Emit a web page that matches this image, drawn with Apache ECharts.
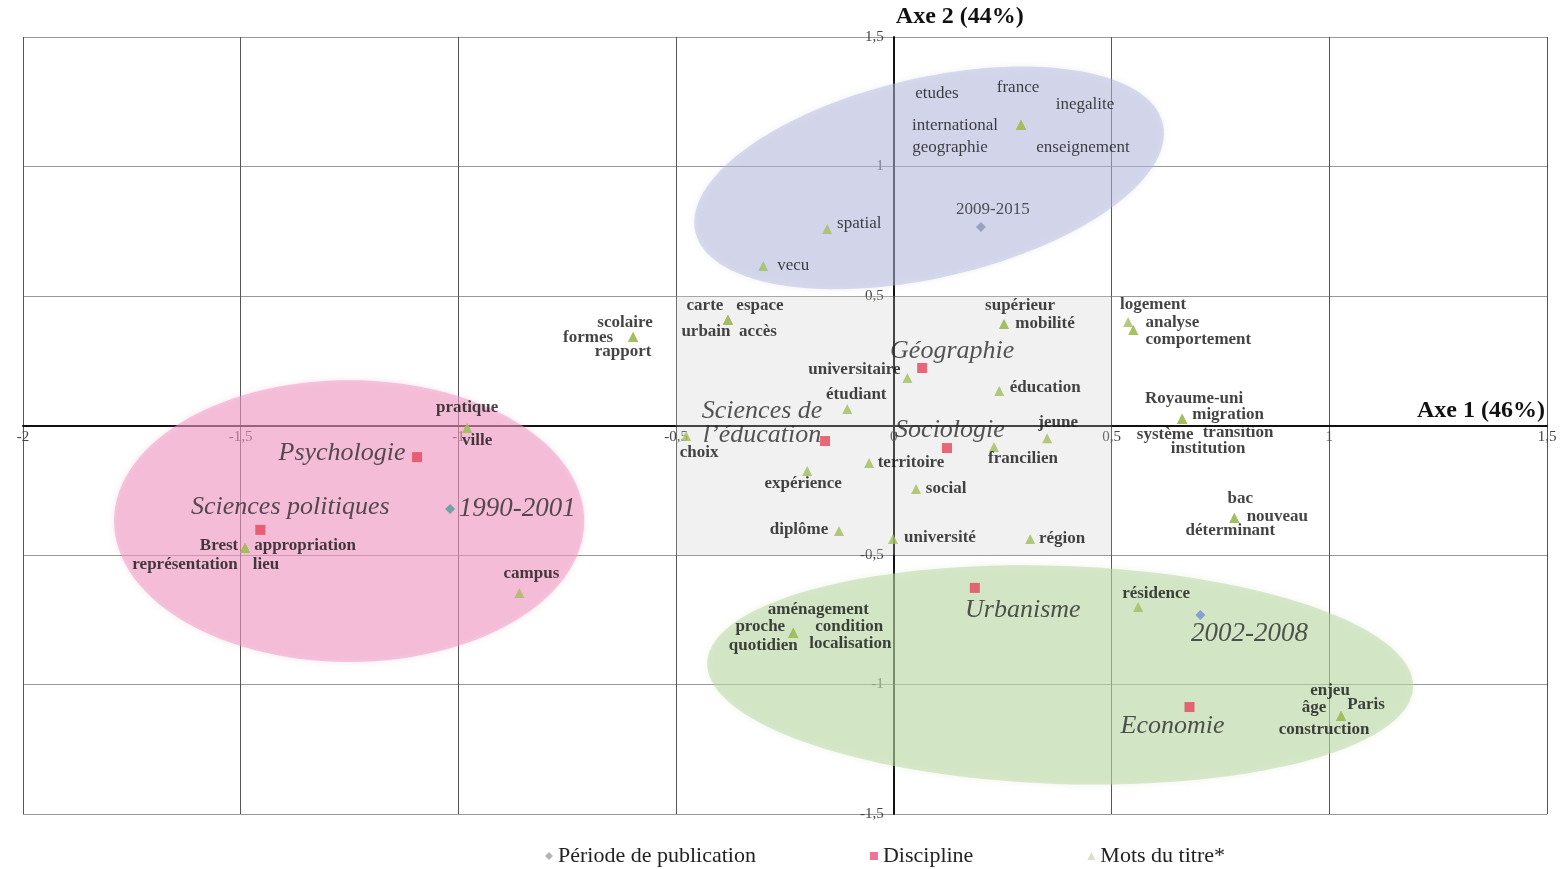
<!DOCTYPE html>
<html>
<head>
<meta charset="utf-8">
<script src="https://cdn.jsdelivr.net/npm/echarts@6/dist/echarts.min.js"></script>
<style>html,body{margin:0;padding:0;background:#fff}#main{width:1562px;height:869px}</style>
</head>
<body>
<div id="main"></div>
<script>
// ---- data ----
var periodNames = ['2009-2015', '1990-2001', '2002-2008'];
var periodX = [0.200, -1.019, 0.704];
var periodY = [0.766, -0.322, -0.732];

var disciplineNames = ['Psychologie', 'Sciences politiques', 'Sciences de\nl’éducation', 'Géographie', 'Sociologie', 'Urbanisme', 'Economie'];
var disciplineX = [-1.095, -1.455, -0.158, 0.065, 0.122, 0.186, 0.679];
var disciplineY = [-0.122, -0.403, -0.060, 0.222, -0.087, -0.627, -1.087];

var wordNames = ['etudes', 'france', 'inegalite', 'international', 'geographie', 'enseignement',
  'spatial', 'vecu', 'carte', 'espace', 'urbain', 'accès', 'scolaire', 'formes', 'rapport',
  'universitaire', 'étudiant', 'choix', 'pratique', 'ville', 'Brest', 'appropriation', 'représentation', 'lieu',
  'campus', 'expérience', 'territoire', 'diplôme', 'social', 'université', 'supérieur', 'mobilité',
  'éducation', 'francilien', 'jeune', 'région', 'logement', 'analyse', 'comportement',
  'Royaume-uni', 'migration', 'système', 'transition', 'institution', 'bac', 'nouveau', 'déterminant',
  'aménagement', 'proche', 'condition', 'quotidien', 'localisation', 'résidence',
  'enjeu', 'âge', 'Paris', 'construction'];
var wordX = [0.292, 0.292, 0.292, 0.292, 0.292, 0.292,
  -0.153, -0.300, -0.381, -0.381, -0.381, -0.381, -0.599, -0.599, -0.599,
  0.031, -0.107, -0.477, -0.980, -0.980, -1.490, -1.490, -1.490, -1.490,
  -0.860, -0.199, -0.057, -0.126, 0.051, -0.002, 0.253, 0.253,
  0.242, 0.230, 0.352, 0.313, 0.538, 0.550, 0.550,
  0.662, 0.662, 0.662, 0.662, 0.662, 0.782, 0.782, 0.782,
  -0.231, -0.231, -0.231, -0.231, -0.231, 0.561,
  1.027, 1.027, 1.027, 1.027];
var wordY = [1.160, 1.160, 1.160, 1.160, 1.160, 1.160,
  0.759, 0.616, 0.407, 0.407, 0.407, 0.407, 0.342, 0.342, 0.342,
  0.183, 0.064, -0.041, -0.010, -0.010, -0.473, -0.473, -0.473, -0.473,
  -0.647, -0.176, -0.145, -0.407, -0.245, -0.438, 0.392, 0.392,
  0.133, -0.083, -0.049, -0.438, 0.400, 0.369, 0.369,
  0.025, 0.025, 0.025, 0.025, 0.025, -0.357, -0.357, -0.357,
  -0.801, -0.801, -0.801, -0.801, -0.801, -0.701,
  -1.122, -1.122, -1.122, -1.122];

// shaded zones: centre x, centre y, radius x, radius y, tilt (deg)
var zoneCx = [-1.251, 0.081, 0.382];
var zoneCy = [-0.369, 0.956, -0.963];
var zoneRx = [0.540, 0.551, 0.811];
var zoneRy = [0.544, 0.386, 0.421];
var zoneTilt = [0, -13, 2];

var X_MIN = -2, X_MAX = 1.5, Y_MIN = -1.5, Y_MAX = 1.5;

// ---- styling ----
var SERIF = 'Liberation Serif';
var GRID = { left: 23, right: 15, top: 37, bottom: 55 };
var W = 1562, H = 869;
var zoneColors = ['rgba(237,148,190,0.5)', 'rgba(175,179,218,0.45)', 'rgba(183,214,162,0.5)'];
var periodColors = ['#8c93b5', '#4d9c9c', '#6f8fcf'];

// label centre offsets (px) from the marker
var periodOffset = [[12, -18], [67, 0], [49, 19]];
var disciplineOffset = [[-75, -4], [30, -23], [-63, -18], [30, -17], [3, -18], [48, 22], [-17, 19]];
var wordOffset = {
  etudes: [-84, -32], france: [-3, -38], inegalite: [64, -21], international: [-66, 0],
  geographie: [-71, 22], enseignement: [62, 22], spatial: [32, -5], vecu: [30, 0],
  carte: [-23, -14], espace: [32, -14], urbain: [-22, 12], 'accès': [30, 12],
  scolaire: [-8, -14], formes: [-45, 1], rapport: [-10, 15],
  universitaire: [-53, -8], 'étudiant': [9, -14], choix: [13, 16],
  pratique: [0, -20], ville: [10, 13],
  Brest: [-26, -2], appropriation: [60, -2], 'représentation': [-60, 17], lieu: [21, 17],
  campus: [12, -19], 'expérience': [-4, 13], territoire: [42, 0], 'diplôme': [-40, -1],
  social: [30, 0], 'université': [47, -1], 'supérieur': [16, -18], 'mobilité': [41, 0],
  'éducation': [46, -3], francilien: [29, 12], jeune: [11, -16], 'région': [32, 0],
  logement: [25, -17], analyse: [39, -7], comportement: [65, 10],
  'Royaume-uni': [12, -20], migration: [46, -4], 'système': [-17, 16], transition: [56, 14], institution: [26, 30],
  bac: [6, -19], nouveau: [43, -1], 'déterminant': [-4, 13],
  'aménagement': [25, -23], proche: [-33, -6], condition: [56, -6], quotidien: [-30, 13], localisation: [57, 11],
  'résidence': [18, -13],
  enjeu: [-11, -25], 'âge': [-27, -8], Paris: [25, -11], construction: [-17, 14]
};
var plainWords = { etudes: 1, france: 1, inegalite: 1, international: 1, geographie: 1, enseignement: 1, spatial: 1, vecu: 1 };

// axes cross at zero: shift the axes (and their labels) inwards
var gridW = W - GRID.left - GRID.right, gridH = H - GRID.top - GRID.bottom;
var xAxisShift = -(0 - Y_MIN) / (Y_MAX - Y_MIN) * gridH;
var yAxisShift = -(0 - X_MIN) / (X_MAX - X_MIN) * gridW;

var zoneData = zoneCx.map(function (cx, i) {
  return { value: [cx, zoneCy[i], zoneRx[i], zoneRy[i], zoneTilt[i]], itemStyle: { color: zoneColors[i] } };
});

var periodData = periodNames.map(function (n, i) {
  var big = i > 0;
  return {
    name: n, value: [periodX[i], periodY[i]],
    itemStyle: { color: periodColors[i] },
    label: { offset: periodOffset[i], fontSize: big ? 27 : 17, fontStyle: big ? 'italic' : 'normal' }
  };
});

var disciplineData = disciplineNames.map(function (n, i) {
  return { name: n, value: [disciplineX[i], disciplineY[i]], label: { offset: disciplineOffset[i] } };
});

var wordData = wordNames.map(function (n, i) {
  return {
    name: n, value: [wordX[i], wordY[i]],
    label: { offset: wordOffset[n], fontWeight: plainWords[n] ? 'normal' : 'bold' }
  };
});

function renderEllipse(params, api) {
  var c = api.coord([api.value(0), api.value(1)]);
  var s = api.size([api.value(2), api.value(3)]);
  var rot = api.value(4) * Math.PI / 180;
  var pts = [];
  for (var k = 0; k < 120; k++) {
    var t = k / 120 * Math.PI * 2;
    var ex = s[0] * Math.cos(t), ey = s[1] * Math.sin(t);
    pts.push([c[0] + ex * Math.cos(rot) - ey * Math.sin(rot), c[1] + ex * Math.sin(rot) + ey * Math.cos(rot)]);
  }
  return {
    type: 'polygon', shape: { points: pts },
    style: { fill: api.visual('color'), shadowBlur: 6, shadowColor: api.visual('color') }
  };
}

function renderBox(params, api) {
  var a = api.coord([-0.5, 0.5]);
  var b = api.coord([0.5, -0.5]);
  return { type: 'rect', shape: { x: a[0], y: a[1], width: b[0] - a[0], height: b[1] - a[1] },
    style: { fill: 'rgba(205,205,205,0.28)' } };
}

function fmt(v) { return String(v).replace('.', ','); }

var baseLabel = {
  show: true, position: 'inside', align: 'center', verticalAlign: 'middle',
  formatter: '{b}', color: '#141414', textBorderWidth: 0, fontFamily: SERIF
};

var myChart = echarts.init(document.getElementById('main'));
var option = {
  animation: false,
  backgroundColor: '#fff',
  grid: { left: GRID.left, right: GRID.right, top: GRID.top, bottom: GRID.bottom, containLabel: false, outerBoundsMode: 'none' },
  legend: {
    top: 840, left: 540, itemGap: 114, itemWidth: 8, itemHeight: 8,
    textStyle: { fontFamily: SERIF, fontSize: 22, color: '#222' },
    data: [
      { name: 'Période de publication', icon: 'diamond', itemStyle: { color: '#a0a0a0' } },
      { name: 'Discipline', icon: 'rect', itemStyle: { color: '#e8507e' } },
      { name: 'Mots du titre*', icon: 'triangle', itemStyle: { color: '#d0d8b8' } }
    ]
  },
  xAxis: {
    type: 'value', min: X_MIN, max: X_MAX, interval: 0.5,
    position: 'bottom', offset: xAxisShift,
    name: 'Axe 1 (46%)', nameLocation: 'end', nameGap: -2,
    nameTextStyle: { fontFamily: SERIF, fontSize: 24, fontWeight: 'bold', color: '#111', align: 'right', verticalAlign: 'bottom', padding: [0, 0, 3, 0] },
    axisLine: { onZero: false, lineStyle: { color: '#111', width: 2 } },
    axisTick: { show: false },
    axisLabel: { fontFamily: SERIF, fontSize: 15, color: '#444', margin: 4, formatter: fmt, showMinLabel: true, showMaxLabel: true },
    splitLine: { show: true, lineStyle: { color: '#555', width: 1 } }
  },
  yAxis: {
    type: 'value', min: Y_MIN, max: Y_MAX, interval: 0.5,
    position: 'left', offset: yAxisShift,
    name: 'Axe 2 (44%)', nameLocation: 'end', nameGap: 8,
    nameTextStyle: { fontFamily: SERIF, fontSize: 24, fontWeight: 'bold', color: '#111', align: 'left', padding: [0, 0, 0, 2] },
    axisLine: { onZero: false, lineStyle: { color: '#111', width: 2 } },
    axisTick: { show: false },
    axisLabel: { fontFamily: SERIF, fontSize: 15, color: '#444', margin: 10,
      formatter: function (v) { return v === 0 ? '' : fmt(v); }, showMinLabel: true, showMaxLabel: true },
    splitLine: { show: true, lineStyle: { color: '#999', width: 1 } }
  },
  series: [
    { type: 'custom', name: 'box', silent: true, z: 1, renderItem: renderBox, data: [[0, 0]] },
    { type: 'custom', name: 'zones', silent: true, z: 1, renderItem: renderEllipse, data: zoneData },
    {
      type: 'scatter', name: 'Mots du titre*', symbol: 'triangle', symbolSize: 10,
      itemStyle: { color: '#a4bd5e' },
      label: Object.assign({}, baseLabel, { fontSize: 17 }),
      data: wordData
    },
    {
      type: 'scatter', name: 'Discipline', symbol: 'rect', symbolSize: 10,
      itemStyle: { color: '#e5455a' },
      label: Object.assign({}, baseLabel, { fontSize: 26, fontStyle: 'italic', color: '#2a2a2a', lineHeight: 24 }),
      data: disciplineData
    },
    {
      type: 'scatter', name: 'Période de publication', symbol: 'diamond', symbolSize: 10,
      itemStyle: { color: '#8c93b5' },
      label: Object.assign({}, baseLabel, { color: '#2a2a2a' }),
      data: periodData
    }
  ]
};
myChart.setOption(option);
</script>
</body>
</html>
